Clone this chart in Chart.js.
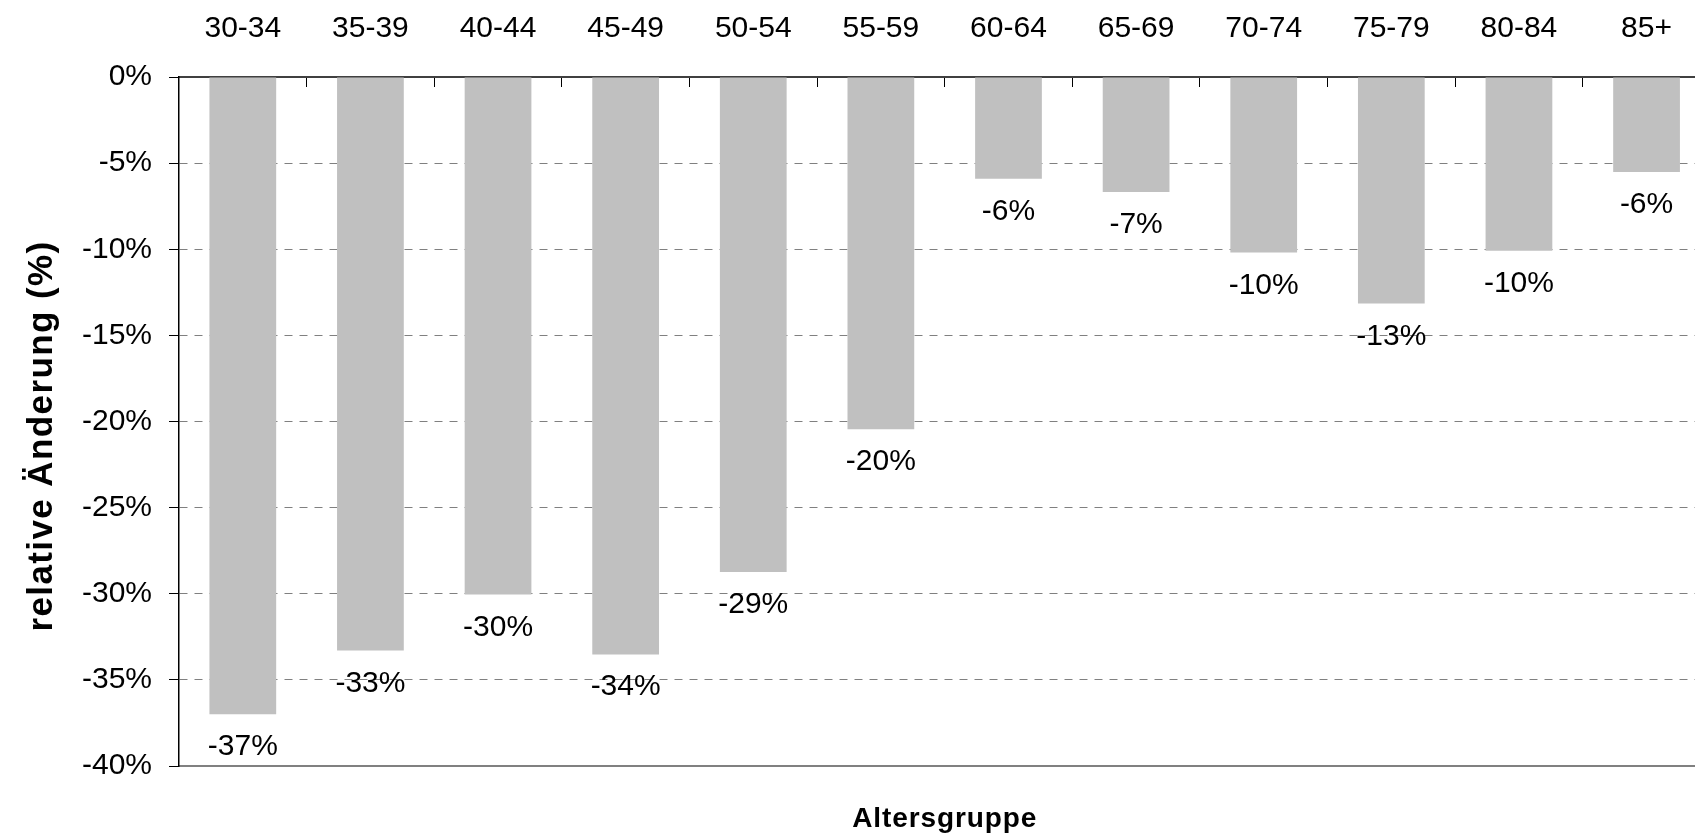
<!DOCTYPE html>
<html>
<head>
<meta charset="utf-8">
<script src="https://cdn.jsdelivr.net/npm/chart.js@4/dist/chart.umd.min.js"></script>
<style>
body { margin: 0; overflow: hidden; background: #fff; }
#wrap { width: 1712px; height: 837px; position: relative; }
</style>
</head>
<body>
<div id="wrap"><canvas id="agechart"></canvas></div>
<script>
var ageGroups = ["30-34", "35-39", "40-44", "45-49", "50-54", "55-59", "60-64", "65-69", "70-74", "75-79", "80-84", "85+"];
var changeValues = [-37.0, -33.3, -30.05, -33.52, -28.74, -20.45, -5.9, -6.68, -10.19, -13.15, -10.08, -5.52];
var yTicks = [0, -5, -10, -15, -20, -25, -30, -35, -40];

var yTitle = "relative Änderung (%)";
var xTitle = "Altersgruppe";

Chart.defaults.font.family = "'Liberation Sans', Arial, sans-serif";
Chart.defaults.color = "#000";

var barLabels = {
  id: "barLabels",
  afterDatasetsDraw: function(chart) {
    var ctx = chart.ctx;
    var meta = chart.getDatasetMeta(0);
    ctx.save();
    ctx.font = "30px 'Liberation Sans', Arial, sans-serif";
    ctx.fillStyle = "#000";
    ctx.textAlign = "center";
    ctx.textBaseline = "alphabetic";
    for (var i = 0; i < meta.data.length; i++) {
      var bar = meta.data[i];
      var v = changeValues[i];
      var txt = "-" + Math.round(Math.abs(v)) + "%";
      ctx.fillText(txt, bar.x, bar.y + 41);
    }
    ctx.restore();
  }
};

var axisTitles = {
  id: "axisTitles",
  afterDraw: function(chart) {
    var ctx = chart.ctx;
    var area = chart.chartArea;
    ctx.save();
    ctx.fillStyle = "#000";
    ctx.textAlign = "center";
    ctx.textBaseline = "alphabetic";
    ctx.font = "bold 35px 'Liberation Sans', Arial, sans-serif";
    ctx.letterSpacing = "1.4px";
    ctx.translate(52, 436);
    ctx.rotate(-Math.PI / 2);
    ctx.fillText(yTitle, 0, 0);
    ctx.restore();

    ctx.save();
    ctx.fillStyle = "#000";
    ctx.textAlign = "center";
    ctx.textBaseline = "alphabetic";
    ctx.font = "bold 28px 'Liberation Sans', Arial, sans-serif";
    ctx.letterSpacing = "0.9px";
    ctx.fillText(xTitle, (area.left + area.right) / 2, 827);
    ctx.restore();
  }
};

new Chart("agechart", {
  type: "bar",
  data: {
    labels: ageGroups,
    datasets: [{
      data: changeValues,
      backgroundColor: "#c0c0c0",
      borderWidth: 0,
      categoryPercentage: 1,
      barPercentage: 0.523
    }]
  },
  options: {
    responsive: true,
    maintainAspectRatio: false,
    animation: false,
    layout: { padding: { left: 0, right: 0, top: 0, bottom: 71 } },
    plugins: {
      legend: { display: false },
      tooltip: { enabled: false }
    },
    scales: {
      x: {
        position: "top",
        offset: true,
        grid: {
          offset: true,
          drawOnChartArea: false,
          drawTicks: true,
          tickLength: -10,
          tickColor: "#000",
          tickWidth: 1
        },
        border: { color: "#404040", width: 2 },
        ticks: {
          font: { size: 30 },
          color: "#000",
          padding: 40,
          maxRotation: 0,
          autoSkip: false
        },
        afterFit: function(scale) { scale.height = 77; }
      },
      x2: {
        type: "category",
        labels: ageGroups,
        position: "bottom",
        offset: true,
        grid: { display: false },
        ticks: { display: false },
        border: { color: "#808080", width: 2 },
        afterFit: function(scale) { scale.height = 0; }
      },
      y: {
        min: -40,
        max: 0,
        afterBuildTicks: function(scale) {
          scale.ticks = yTicks.map(function(v) { return { value: v }; });
        },
        ticks: {
          font: { size: 30 },
          color: "#000",
          padding: 17,
          callback: function(v) { return v + "%"; }
        },
        grid: {
          color: "#808080",
          lineWidth: 1,
          drawTicks: true,
          tickLength: 10,
          tickColor: "#000",
          tickWidth: 1
        },
        border: { color: "#000", width: 1.5, dash: [8, 7] },
        afterFit: function(scale) { scale.width = 179; }
      }
    }
  },
  plugins: [barLabels, axisTitles]
});
</script>
</body>
</html>
